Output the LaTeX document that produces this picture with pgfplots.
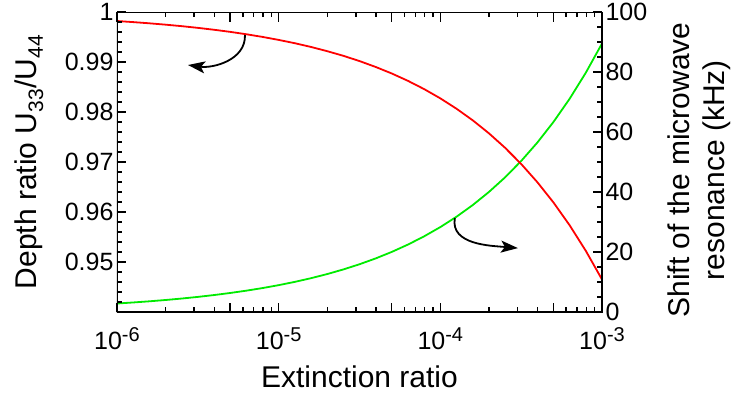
\documentclass[border=0pt]{standalone}
\usepackage{fontspec}
\setmainfont{Liberation Sans}
\usepackage{pgfplots}
\usepackage{pgfplotstable}
\pgfplotsset{compat=1.18}
\usetikzlibrary{arrows.meta}

\definecolor{depthred}{RGB}{255,0,0}
\definecolor{shiftgreen}{RGB}{0,235,0}

% depth ratio U33/U44 versus extinction ratio
\pgfplotstableread{
x          y
1.0000e-6  0.99820
1.2589e-6  0.99798
1.5849e-6  0.99774
1.9953e-6  0.99747
2.5119e-6  0.99717
3.1623e-6  0.99683
3.9811e-6  0.99645
5.0119e-6  0.99603
6.3096e-6  0.99555
7.9433e-6  0.99502
1.0000e-5  0.99442
1.2589e-5  0.99376
1.5849e-5  0.99301
1.9953e-5  0.99217
2.5119e-5  0.99124
3.1623e-5  0.99019
3.9811e-5  0.98901
5.0119e-5  0.98770
6.3096e-5  0.98623
7.9433e-5  0.98458
1.0000e-4  0.98273
1.2589e-4  0.98066
1.5849e-4  0.97835
1.9953e-4  0.97576
2.5119e-4  0.97286
3.1623e-4  0.96961
3.9811e-4  0.96597
5.0119e-4  0.96190
6.3096e-4  0.95734
7.9433e-4  0.95223
1.0000e-3  0.94651
}\depthdata

% shift of the microwave resonance (kHz) versus extinction ratio
\pgfplotstableread{
x          y
1.0000e-6  2.830
1.2589e-6  3.175
1.5849e-6  3.563
1.9953e-6  3.997
2.5119e-6  4.485
3.1623e-6  5.033
3.9811e-6  5.647
5.0119e-6  6.336
6.3096e-6  7.109
7.9433e-6  7.976
1.0000e-5  8.949
1.2589e-5  10.041
1.5849e-5  11.266
1.9953e-5  12.641
2.5119e-5  14.184
3.1623e-5  15.914
3.9811e-5  17.856
5.0119e-5  20.035
6.3096e-5  22.480
7.9433e-5  25.222
1.0000e-4  28.300
1.2589e-4  31.753
1.5849e-4  35.627
1.9953e-4  39.974
2.5119e-4  44.853
3.1623e-4  50.326
3.9811e-4  56.467
5.0119e-4  63.355
6.3096e-4  71.087
7.9433e-4  79.761
1.0000e-3  89.493
}\shiftdata

\newcommand{\dec}[1]{10\raisebox{8bp}{\fontsize{20bp}{20bp}\selectfont #1}}

\pgfplotsset{
  chartbase/.style={
    scale only axis, width=485bp, height=300bp,
    at={(0,0)}, anchor=south west,
    xmin=1e-6, xmax=1e-3,
    tick align=inside,
    major tick length=9.5bp, minor tick length=5bp,
    tick style={line width=1.5bp, black},
    tick label style={font=\fontsize{25bp}{30bp}\selectfont},
    label style={font=\fontsize{30bp}{35bp}\selectfont},
  },
}
\tikzset{
  arrowline/.style={line width=1.8bp, black,
    -{Stealth[length=17bp, width=12bp, inset=4bp]}},
  tickline/.style={line width=1.5bp, black},
}

\begin{document}
\begin{tikzpicture}
% right axis: resonance shift
\begin{semilogxaxis}[chartbase,
  hide x axis,
  axis y line*=right,
  ymin=0, ymax=100,
  ytick={0,20,40,60,80,100},
  yticklabels={0,20,40,60,80,100},
  minor y tick num=3,
  ylabel={Shift of the microwave\\resonance (kHz)},
  ylabel style={at={(axis description cs:1.1361,0.473)}, anchor=north,
    align=center, inner sep=0pt},
]
\addplot[shiftgreen, line width=1.8bp] table[x=x, y=y] {\shiftdata};
\draw[arrowline] (axis cs:1.23e-4,31.3) to[out=-100, in=175] (axis cs:3.02e-4,21.3);
% tick marks on the right-hand scale (lengths given in data units)
\pgfplotsinvokeforeach{0,20,40,60,80,100}{
  \draw[tickline] (axis cs:1e-3,#1) -- (axis cs:8.737e-4,#1);
}
\pgfplotsinvokeforeach{5,10,15,25,30,35,45,50,55,65,70,75,85,90,95}{
  \draw[tickline] (axis cs:1e-3,#1) -- (axis cs:9.313e-4,#1);
}
\end{semilogxaxis}

% left axis: depth ratio
\begin{semilogxaxis}[chartbase,
  ymin=0.94, ymax=1,
  ytick={0.95,0.96,0.97,0.98,0.99,1},
  yticklabels={0.95,0.96,0.97,0.98,0.99,1},
  minor y tick num=4,
  ytick pos=left,
  xtick={1e-6,1e-5,1e-4,1e-3},
  xticklabels={\dec{-6},\dec{-5},\dec{-4},\dec{-3}},
  xticklabel style={anchor=base, yshift=-37bp},
  extra x ticks={5e-6,5e-5,5e-4},
  extra x tick labels={},
  extra x tick style={grid=none},
  xlabel={Extinction ratio},
  xlabel style={at={(axis description cs:0.5,-0.2533)}, anchor=base},
  ylabel={Depth ratio U\textsubscript{33}/U\textsubscript{44}},
  ylabel style={at={(axis description cs:-0.165,0.5)}, anchor=base},
]
\addplot[depthred, line width=1.8bp] table[x=x, y=y] {\depthdata};
\draw[arrowline] (axis cs:6.19e-6,0.9954) to[out=-88, in=-8] (axis cs:2.75e-6,0.9894);
% tick marks on the bottom and top edges (lengths given in data units)
\pgfplotsinvokeforeach{1e-6,5e-6,1e-5,5e-5,1e-4,5e-4,1e-3}{
  \draw[tickline] (axis cs:#1,0.94) -- (axis cs:#1,0.9419);
  \draw[tickline] (axis cs:#1,1) -- (axis cs:#1,0.9981);
}
\pgfplotsinvokeforeach{2e-6,3e-6,4e-6,6e-6,7e-6,8e-6,9e-6,
                       2e-5,3e-5,4e-5,6e-5,7e-5,8e-5,9e-5,
                       2e-4,3e-4,4e-4,6e-4,7e-4,8e-4,9e-4}{
  \draw[tickline] (axis cs:#1,0.94) -- (axis cs:#1,0.941);
  \draw[tickline] (axis cs:#1,1) -- (axis cs:#1,0.999);
}
% tick marks on the left-hand scale
\pgfplotsinvokeforeach{0.95,0.96,0.97,0.98,0.99,1}{
  \draw[tickline] (axis cs:1e-6,#1) -- (axis cs:1.1446e-6,#1);
}
\pgfplotsinvokeforeach{0.942,0.944,0.946,0.948,0.952,0.954,0.956,0.958,
                       0.962,0.964,0.966,0.968,0.972,0.974,0.976,0.978,
                       0.982,0.984,0.986,0.988,0.992,0.994,0.996,0.998}{
  \draw[tickline] (axis cs:1e-6,#1) -- (axis cs:1.0738e-6,#1);
}
% heavier frame round the plot area
\draw[line width=2.2bp] (rel axis cs:0,0) rectangle (rel axis cs:1,1);
\end{semilogxaxis}

\pgfresetboundingbox
\path (-117bp,-82bp) rectangle (616bp,312bp);
\end{tikzpicture}
\end{document}
